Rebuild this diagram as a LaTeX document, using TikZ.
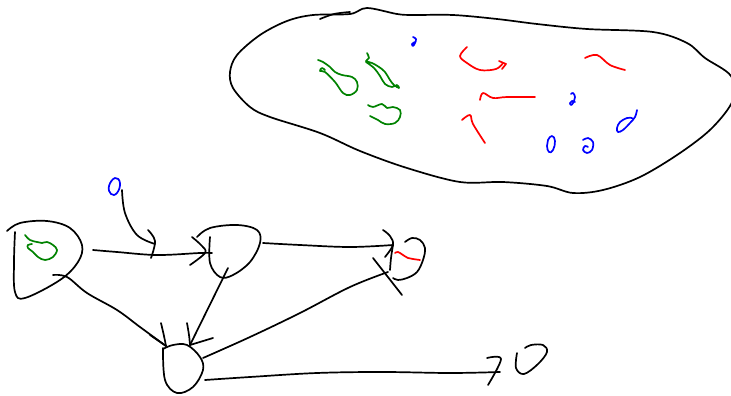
\documentclass[tikz,border=0pt]{standalone}
\begin{document}
\begin{tikzpicture}[x=1pt,y=-1pt,
  ink/.style={line width=1.7pt, line cap=round, line join=round},
  blk/.style={ink, black},
  grn/.style={ink, draw={rgb,255:red,0;green,130;blue,0}},
  rd/.style={ink, draw={rgb,255:red,255;green,0;blue,0}},
  blu/.style={ink, draw={rgb,255:red,0;green,0;blue,255}},
  sm/.style={smooth, tension=0.6}]
\useasboundingbox (0,0) rectangle (731,396);
\clip (0,0) rectangle (731,396);

% ---------- the big region ----------
\draw[blk] plot[smooth cycle, tension=0.55] coordinates {
  (350,14) (367,8) (397,14) (413,15) (453,15) (497,19) (537,24) (587,29)
  (653,32) (687,43) (705,58) (731,76) (733,100) (712,128) (680,153)
  (640,177) (603,190) (573,193) (547,186) (503,182) (460,182) (407,168)
  (360,151) (320,133) (270,117) (250,107) (233,88) (230,72) (237,55)
  (260,35) (287,21) (313,15)};
\draw[blk] plot[sm] coordinates {(320,19) (334,14) (350,12)};

% green strokes
\draw[grn] plot[sm] coordinates {(318,60) (323,62) (330,67) (335,72) (342,75) (352,77) (357,82) (357,90) (350,95) (343,93) (335,82) (325,72) (320,71) (322,68) (325,70)};
\draw[grn] plot[sm] coordinates {(367,53) (369,58) (366,61) (372,63) (379,67) (385,72) (390,80) (394,85) (399,88) (397,85) (392,87) (385,84) (380,76) (374,68) (366,62)};
\draw[grn] plot[sm] coordinates {(368,105) (373,107) (382,104) (387,108) (393,107) (400,110) (400,117) (395,123) (385,124) (378,120) (372,117) (370,116)};

% red strokes
\draw[rd] plot[sm] coordinates {(467,47) (460,56) (467,63) (480,70) (496,69) (503,63)};
\draw[rd] (499,61) -- (506,64) -- (502,69);
\draw[rd] plot[sm] coordinates {(585,58) (597,55) (610,65) (625,70)};
\draw[rd] plot[sm] coordinates {(480,100) (483,93) (493,98) (507,97) (535,97)};
\draw[rd] plot[sm] coordinates {(462,120) (470,115) (473,124) (485,143)};

% blue strokes
\draw[blu] plot[sm] coordinates {(413,37) (416,39) (415,43) (413,46) (412,44) (415,42)};
\draw[blu] plot[sm] coordinates {(571,94) (573,93) (575,97) (573,103) (571,105) (570,103) (572,101) (575,102)};
\draw[blu] plot[smooth cycle, tension=0.8] coordinates {(552,136) (555,141) (553,150) (549,152) (547,146) (548,140)};
\draw[blu] plot[sm] coordinates {(583,140) (588,138) (593,142) (592,150) (587,153) (583,150) (585,146) (588,147)};
\draw[blu] plot[sm] coordinates {(637,110) (635,117) (630,123) (623,130) (618,132) (617,128) (620,122) (627,118) (632,118)};

% ---------- graph ----------
\coordinate (a) at (45,260);
\coordinate (b) at (232,250);
\coordinate (c) at (407,260);
\coordinate (d) at (182,368);
\coordinate (e) at (532,360);

% node a
\draw[blk] plot[sm] coordinates {(7,231) (20,223) (47,221) (70,228) (82,245) (78,262) (60,280) (25,298) (15,292) (14,262) (15,232)};
\draw[grn] plot[sm] coordinates {(25,235) (30,240) (37,242) (42,243) (47,242) (53,245) (57,250) (53,257) (45,260) (38,257) (33,252) (28,248) (28,245) (32,244)};

% node b
\draw[blk] plot[sm] coordinates {(197,237) (210,228) (237,225) (257,230) (260,243) (250,262) (233,275) (220,277) (210,263) (210,237)};

% node c
\draw[blk] plot[sm] coordinates {(405,242) (412,238) (420,240) (425,248) (423,260) (417,272) (407,278) (398,280) (393,278)};
\draw[rd] plot[sm] coordinates {(395,253) (398,252) (403,255) (408,258) (413,259) (420,260)};

% node d
\draw[blk] plot[sm] coordinates {(163,348) (165,380) (177,393) (193,387) (203,370) (200,357) (187,345) (173,345) (163,349)};

% node e
\draw[blk] plot[sm] coordinates {(517,353) (516,368) (524,374) (538,364) (547,352) (543,345) (531,345) (525,348)};

% the small source mark
\coordinate (s) at (114,186);
\draw[blu] plot[smooth cycle, tension=0.8] coordinates {(115,178) (120,183) (117,193) (111,194) (109,186)};

% source -> edge a-b
\coordinate (sEnd) at (155,244);
\draw[blk] plot[sm] coordinates {(122,190) (125,213) (137,235) (sEnd)};
\draw[blk] plot[sm] coordinates {(148,230) (155,241) (151,258)};

% a -> b
\coordinate (abStart) at (93,250);
\coordinate (abEnd) at (212,253);
\draw[blk] plot[sm] coordinates {(abStart) (117,252) (157,255) (200,253) (abEnd)};
\draw[blk] plot[sm] coordinates {(192,237) (202,246) (205,253) (190,265)};

% b -> c
\coordinate (bcStart) at (263,243);
\coordinate (bcEnd) at (393,245);
\draw[blk] plot[sm] coordinates {(bcStart) (300,245) (350,247) (bcEnd)};
\draw[blk] plot[sm] coordinates {(383,230) (390,236) (393,245) (385,257)};
\draw[blk] plot[sm] coordinates {(393,245) (391,258) (390,270)};

% a -> d
\coordinate (adStart) at (53,275);
\coordinate (adEnd) at (166,346);
\draw[blk] plot[sm] coordinates {(adStart) (67,277) (87,293) (117,310) (140,327) (adEnd)};
\draw[blk] plot[sm] coordinates {(161,323) (164,336) (166,346)};
\draw[blk] (150,335) -- (166,346);

% b -> d
\coordinate (bdStart) at (228,268);
\coordinate (bdEnd) at (190,345);
\draw[blk] (bdStart) -- (bdEnd);
\draw[blk] plot[sm] coordinates {(187,323) (189,335) (190,345)};
\draw[blk] (213,338) -- (190,345);

% d -> c
\coordinate (dcStart) at (203,358);
\coordinate (dcEnd) at (388,272);
\draw[blk] plot[sm] coordinates {(dcStart) (250,337) (300,313) (350,287) (dcEnd)};
\draw[blk] (373,258) -- (402,295);

% d -> e
\coordinate (deStart) at (205,380);
\coordinate (deEnd) at (500,372);
\draw[blk] plot[sm] coordinates {(deStart) (250,377) (317,373) (383,372) (450,373) (deEnd)};
\draw[blk] plot[sm] coordinates {(487,358) (501,359) (488,385)};
\end{tikzpicture}
\end{document}
